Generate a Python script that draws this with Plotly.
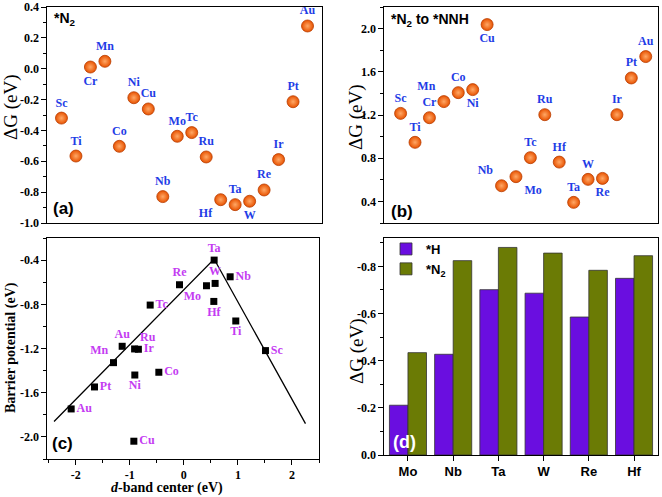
import plotly.graph_objects as go

# ---------------- data ----------------
# panel (a): *N2 adsorption free energy
elements_a = ["Sc", "Ti", "Cr", "Mn", "Co", "Ni", "Cu", "Nb", "Mo", "Tc", "Ru",
              "Hf", "Ta", "W", "Re", "Ir", "Pt", "Au"]
dG_a = [-0.32, -0.566, 0.011, 0.048, -0.503, -0.188, -0.261, -0.829, -0.438, -0.414,
        -0.572, -0.849, -0.881, -0.859, -0.786, -0.589, -0.214, 0.277]

# panel (b): *N2 -> *NNH
elements_b = ["Sc", "Ti", "Cr", "Mn", "Co", "Ni", "Cu", "Nb", "Mo", "Tc", "Ru",
              "Hf", "Ta", "W", "Re", "Ir", "Pt", "Au"]
dG_b = [1.215, 0.947, 1.175, 1.324, 1.407, 1.435, 2.037, 0.545, 0.629, 0.805,
        1.203, 0.764, 0.391, 0.604, 0.613, 1.203, 1.543, 1.741]

# panel (c): barrier potential vs d-band center
names_c = ["Ta", "Re", "Mo", "W", "Nb", "Hf", "Tc", "Ti", "Sc", "Au", "Ru", "Ir",
           "Mn", "Co", "Ni", "Pt", "Au", "Cu"]
dband_c = [0.561, -0.08, 0.419, 0.579, 0.857, 0.555, -0.622, 0.961, 1.51, -1.14,
           -0.91, -0.84, -1.30, -0.462, -0.906, -1.652, -2.083, -0.924]
barrier_c = [-0.40, -0.623, -0.632, -0.611, -0.551, -0.774, -0.807, -0.951, -1.219,
             -1.18, -1.204, -1.207, -1.328, -1.415, -1.44, -1.548, -1.747, -2.039]
fit_x = [-2.40, 0.56, 2.25]
fit_y = [-1.86, -0.39, -1.88]

# panel (d): magnitudes of adsorption free energies (axis labels negative)
metals_d = ["Mo", "Nb", "Ta", "W", "Re", "Hf"]
dG_H_d = [0.211, 0.427, 0.701, 0.686, 0.585, 0.749]
dG_N2_d = [0.434, 0.824, 0.880, 0.856, 0.783, 0.845]

# tick values / labels
ticks_a = [0.4, 0.2, 0.0, -0.2, -0.4, -0.6, -0.8, -1.0]
ticks_b = [0.4, 0.8, 1.2, 1.6, 2.0]
ticks_c_y = [-0.4, -0.8, -1.2, -1.6, -2.0]
ticks_c_x = [-2, -1, 0, 1, 2]
ticks_d = [0.0, 0.2, 0.4, 0.6, 0.8]
ticklabels_d = ["0.0", "-0.2", "-0.4", "-0.6", "-0.8"]

# ---------------- styles ----------------
W, H = 662, 497
SERIF = "Liberation Serif"
SANS = "Liberation Sans"
BLUE = "#1f3de6"
MAG = "#c43cf2"
PURPLE = "#6a0ee0"
OLIVE = "#6b7b05"


def px(x):
    return x / W


def py(y):
    return 1 - y / H


def fmt(v):
    return f"{v:.1f}"


pos_a = {"Cr": "bottom center", "Hf": "bottom left", "W": "bottom center"}
pos_b = {"Ni": "bottom center", "Cu": "bottom center", "Mo": "bottom right",
         "Re": "bottom center", "Mn": "top left", "Nb": "top left"}
pos_c = ["top center", "top center", "bottom left", "top center", "middle right",
         "bottom center", "middle right", "bottom center", "middle right", "top center",
         "top right", "middle right", "top left", "middle right", "bottom center",
         "middle right", "middle right", "middle right"]

sphere = dict(size=12, color="#e85200",
              gradient=dict(type="radial", color="#ffa866"),
              line=dict(color="#b83c00", width=0.8))

fig = go.Figure()

fig.add_trace(go.Scatter(
    x=elements_a, y=dG_a, mode="markers+text", text=elements_a,
    textposition=[pos_a.get(e, "top center") for e in elements_a],
    textfont=dict(family=SERIF, size=12, color=BLUE, weight="bold"),
    marker=sphere, xaxis="x", yaxis="y", showlegend=False, cliponaxis=False))

fig.add_trace(go.Scatter(
    x=elements_b, y=dG_b, mode="markers+text", text=elements_b,
    textposition=[pos_b.get(e, "top center") for e in elements_b],
    textfont=dict(family=SERIF, size=12, color=BLUE, weight="bold"),
    marker=sphere, xaxis="x2", yaxis="y2", showlegend=False, cliponaxis=False))

fig.add_trace(go.Scatter(
    x=fit_x, y=fit_y, mode="lines", line=dict(color="black", width=1.3),
    xaxis="x3", yaxis="y3", showlegend=False))

fig.add_trace(go.Scatter(
    x=dband_c, y=barrier_c, mode="markers+text", text=names_c, textposition=pos_c,
    textfont=dict(family=SERIF, size=12, color=MAG, weight="bold"),
    marker=dict(symbol="square", size=7, color="black"),
    xaxis="x3", yaxis="y3", showlegend=False, cliponaxis=False))

fig.add_trace(go.Bar(
    x=metals_d, y=dG_H_d, name="*H",
    marker=dict(color=PURPLE, line=dict(color="#333333", width=0.8)),
    xaxis="x4", yaxis="y4"))
fig.add_trace(go.Bar(
    x=metals_d, y=dG_N2_d, name="*N<sub>2</sub>",
    marker=dict(color=OLIVE, line=dict(color="#333333", width=0.8)),
    xaxis="x4", yaxis="y4"))

tickfont = dict(family=SERIF, size=12, color="black", weight="bold")
common = dict(showline=True, linecolor="black", linewidth=1.2, mirror=True,
              showgrid=False, zeroline=False, automargin=False, tickcolor="black")
yminor = dict(ticks="outside", ticklen=2.5, tickcolor="black")

fig.update_layout(
    width=W, height=H, margin=dict(l=0, r=0, t=0, b=0, pad=0),
    plot_bgcolor="white", paper_bgcolor="white",
    barmode="group", bargap=0.18, bargroupgap=0,
    xaxis=dict(domain=[px(47), px(322)], range=[-1.0, 18.0], showticklabels=False,
               ticks="", anchor="y", **common),
    yaxis=dict(domain=[py(223), py(7)], range=[-1.0, 0.4], tickvals=ticks_a,
               ticktext=[fmt(v) for v in ticks_a], ticks="outside", ticklen=4.5,
               tickfont=tickfont, anchor="x",
               minor=dict(dtick=0.1, **yminor), **common),
    xaxis2=dict(domain=[px(384), px(658)], range=[-1.15, 17.85], showticklabels=False,
                ticks="", anchor="y2", **common),
    yaxis2=dict(domain=[py(223), py(7)], range=[0.2, 2.2], tickvals=ticks_b,
                ticktext=[fmt(v) for v in ticks_b], ticks="outside", ticklen=4.5,
                tickfont=tickfont, anchor="x2",
                minor=dict(tick0=0.2, dtick=0.2, **yminor), **common),
    xaxis3=dict(domain=[px(47), px(319)], range=[-2.53, 2.5], tickvals=ticks_c_x,
                ticktext=[str(v) for v in ticks_c_x], ticks="outside", ticklen=4.5,
                tickfont=tickfont, anchor="y3",
                minor=dict(tick0=0.5, dtick=0.5, ticks="outside", ticklen=2.5,
                           tickcolor="black"),
                **common),
    yaxis3=dict(domain=[py(459), py(238)], range=[-2.2, -0.2], tickvals=ticks_c_y,
                ticktext=[fmt(v) for v in ticks_c_y], ticks="outside", ticklen=4.5,
                tickfont=tickfont, anchor="x3",
                minor=dict(tick0=-0.2, dtick=0.2, **yminor), **common),
    xaxis4=dict(domain=[px(384), px(658)], range=[-0.53, 5.53], type="category",
                ticks="outside", ticklen=4.5,
                tickfont=dict(family=SANS, size=13, color="black", weight="bold"),
                anchor="y4", **common),
    yaxis4=dict(domain=[py(455), py(238)], range=[0, 0.92], tickvals=ticks_d,
                ticktext=ticklabels_d, ticks="outside", ticklen=4.5,
                tickfont=tickfont, anchor="x4",
                minor=dict(dtick=0.1, **yminor), **common),
    legend=dict(x=px(386), y=py(234), xanchor="left", yanchor="top",
                bgcolor="rgba(0,0,0,0)", tracegroupgap=0,
                font=dict(family=SANS, size=13, color="black", weight="bold")),
)

ann = []


def add(text, x, y, size, family=SANS, color="black", angle=0, bold=True, xanchor="center"):
    ann.append(dict(text=text, x=px(x), y=py(y), xref="paper", yref="paper",
                    showarrow=False, textangle=angle, xanchor=xanchor, yanchor="middle",
                    font=dict(family=family, size=size, color=color,
                              weight="bold" if bold else "normal")))


add("*N<sub>2</sub>", 52, 19, 14, xanchor="left")
add("(a)", 51, 208, 17, xanchor="left")
add("*N<sub>2</sub> to *NNH", 389, 20, 14, xanchor="left")
add("(b)", 389, 211, 17, xanchor="left")
add("(c)", 50, 443, 17, xanchor="left")
add("(d)", 391, 442, 18, color="white", xanchor="left")

add("ΔG (eV)", 11, 107, 19, family=SERIF, angle=-90, bold=False)
add("ΔG (eV)", 356, 117, 19, family=SERIF, angle=-90, bold=False)
add("ΔG (eV)", 357, 351, 19, family=SERIF, angle=-90, bold=False)
add("Barrier potential (eV)", 11, 348, 14, family=SERIF, angle=-90)
add("<i>d</i>-band center (eV)", 167, 488, 14, family=SERIF)

fig.update_layout(annotations=ann)

fig.write_html("out.html", config={"displayModeBar": False},
               post_script="document.body.style.margin='0';"
                           "document.body.style.overflow='hidden';")
